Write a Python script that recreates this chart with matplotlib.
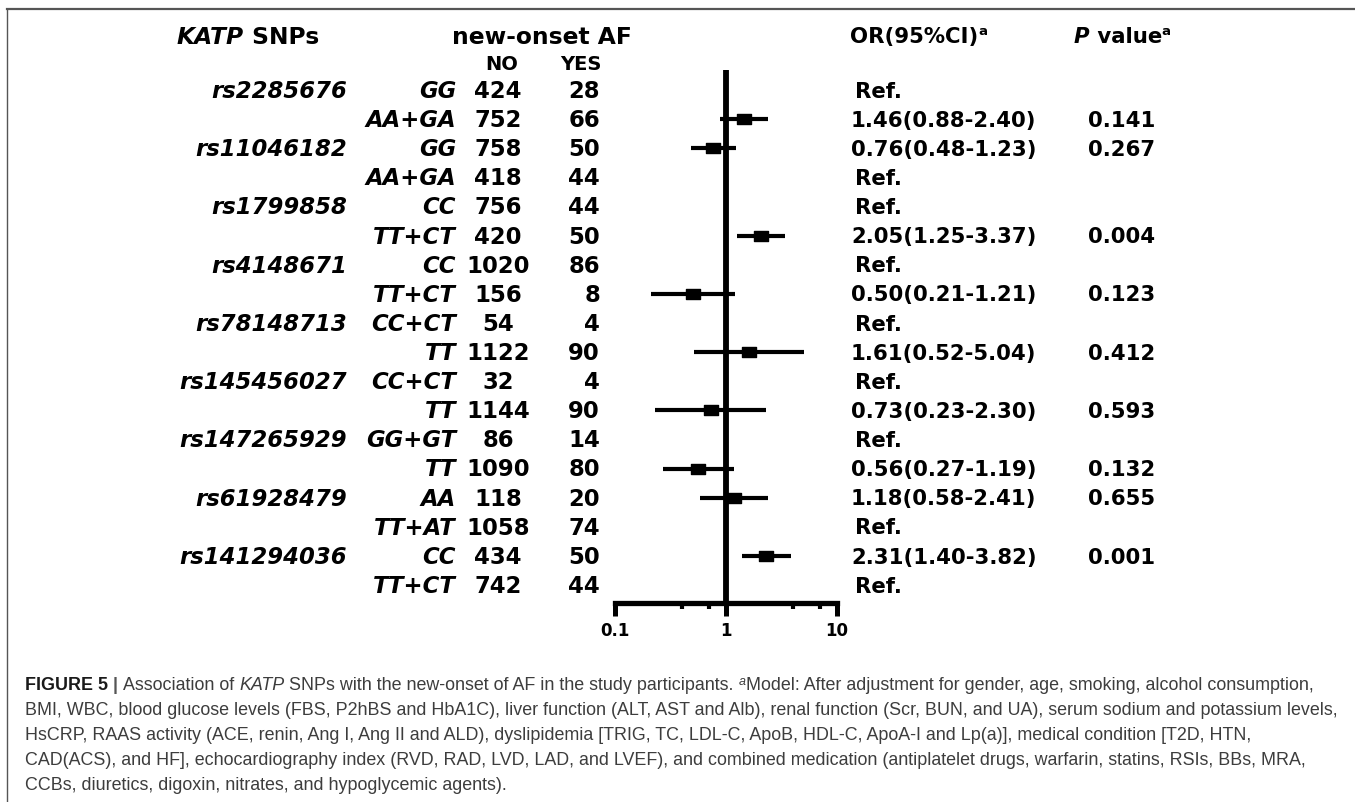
import numpy as np
import matplotlib.pyplot as plt
import matplotlib.transforms as mtransforms
from matplotlib.path import Path
from matplotlib.ticker import FixedLocator, NullFormatter

#====================================================
# data
snp_names = ["rs2285676", "", "rs11046182", "", "rs1799858", "", "rs4148671", "",
             "rs78148713", "", "rs145456027", "", "rs147265929", "", "rs61928479", "",
             "rs141294036", ""]
genotypes = ["GG", "AA+GA", "GG", "AA+GA", "CC", "TT+CT", "CC", "TT+CT", "CC+CT", "TT",
             "CC+CT", "TT", "GG+GT", "TT", "AA", "TT+AT", "CC", "TT+CT"]
af_no = [424, 752, 758, 418, 756, 420, 1020, 156, 54, 1122, 32, 1144, 86, 1090, 118, 1058, 434, 742]
af_yes = [28, 66, 50, 44, 44, 50, 86, 8, 4, 90, 4, 90, 14, 80, 20, 74, 50, 44]
nan = np.nan
odds_ratio = [nan, 1.46, 0.76, nan, nan, 2.05, nan, 0.50, nan, 1.61, nan, 0.73, nan, 0.56, 1.18, nan, 2.31, nan]
ci_low = [nan, 0.88, 0.48, nan, nan, 1.25, nan, 0.21, nan, 0.52, nan, 0.23, nan, 0.27, 0.58, nan, 1.40, nan]
ci_high = [nan, 2.40, 1.23, nan, nan, 3.37, nan, 1.21, nan, 5.04, nan, 2.30, nan, 1.19, 2.41, nan, 3.82, nan]
p_values = ["", "0.141", "0.267", "", "", "0.004", "", "0.123", "", "0.412", "", "0.593", "", "0.132",
            "0.655", "", "0.001", ""]
x_ticks = [0.1, 1, 10]
x_tick_labels = ["0.1", "1", "10"]

caption = [
    "BMI, WBC, blood glucose levels (FBS, P2hBS and HbA1C), liver function (ALT, AST and Alb), renal function (Scr, BUN, and UA), serum sodium and potassium levels,",
    "HsCRP, RAAS activity (ACE, renin, Ang I, Ang II and ALD), dyslipidemia [TRIG, TC, LDL-C, ApoB, HDL-C, ApoA-I and Lp(a)], medical condition [T2D, HTN,",
    "CAD(ACS), and HF], echocardiography index (RVD, RAD, LVD, LAD, and LVEF), and combined medication (antiplatelet drugs, warfarin, statins, RSIs, BBs, MRA,",
    "CCBs, diuretics, digoxin, nitrates, and hypoglycemic agents).",
]

#====================================================
W, H = 1355, 802
fig = plt.figure(figsize=(W / 100, H / 100), dpi=100)
renderer = fig.canvas.get_renderer()

TAB = "DejaVu Sans"
CAP = "Liberation Sans"
fs = 15.3      # right hand columns
fs_left = 16.4 # snp / genotype / counts
fs_head = 16.8


def fx(px):
    return px / W


def fy(py):
    return 1 - py / H


def run_text(x_px, y_px, runs):
    # draw pieces of text one after another on a common baseline
    x = x_px
    for txt, kw in runs:
        kw = dict(kw)
        dy = kw.pop("dy", 0)
        fig.text(fx(x), fy(y_px - dy), txt, ha="left", va="baseline", **kw)
        a = fig.text(0, 0, "x" + txt + "x", **kw)
        b = fig.text(0, 0, "xx", **kw)
        x += a.get_window_extent(renderer).width - b.get_window_extent(renderer).width
        a.remove()
        b.remove()
    return x


# frame
fig.add_artist(plt.Line2D([fx(7), 1], [fy(8.5), fy(8.5)], color="#555555", lw=1.6))
fig.add_artist(plt.Line2D([fx(7), fx(7)], [fy(8.5), 0], color="#555555", lw=1.0))

# forest axes
ax = fig.add_axes([fx(615), fy(603), fx(837) - fx(615), (603 - 70) / H])
ax.set_xscale("log")
ax.set_xlim(0.1, 10)
row_top, row_step = 90, 29.12
ax.set_ylim((603 - row_top) / row_step, (70 - row_top) / row_step)
ax.axvline(1, color="black", lw=4.2)

box = Path([(-1.35, -1), (1.35, -1), (1.35, 1), (-1.35, 1), (-1.35, -1)],
           [Path.MOVETO, Path.LINETO, Path.LINETO, Path.LINETO, Path.CLOSEPOLY])
for i in range(len(genotypes)):
    if np.isnan(odds_ratio[i]):
        continue
    ax.plot([ci_low[i], ci_high[i]], [i, i], color="black", lw=3.0, solid_capstyle="butt")
    ax.plot(odds_ratio[i], i, marker=box, ms=10.2, color="black", ls="none")

for s in ["top", "right", "left"]:
    ax.spines[s].set_visible(False)
ax.spines["bottom"].set_linewidth(3.8)
ax.set_yticks([])
ax.xaxis.set_major_locator(FixedLocator(x_ticks))
ax.set_xticklabels(x_tick_labels, fontfamily=TAB, fontweight="bold", fontsize=12)
ax.xaxis.set_minor_locator(FixedLocator([0.4, 0.7, 4, 7]))
ax.xaxis.set_minor_formatter(NullFormatter())
ax.tick_params(axis="x", which="major", length=9, width=3.6, pad=5)
ax.tick_params(axis="x", which="minor", length=4.5, width=3.0)
ax.patch.set_alpha(0)

# table columns
tr = mtransforms.blended_transform_factory(fig.transFigure, ax.transData)
bold = dict(fontfamily=TAB, fontweight="bold", fontsize=fs)
lbold = dict(fontfamily=TAB, fontweight="bold", fontsize=fs_left)
lboldit = dict(fontfamily=TAB, fontweight="bold", fontstyle="italic", fontsize=fs_left)
for i in range(len(genotypes)):
    y = i + 7.9 / row_step
    if snp_names[i]:
        ax.text(fx(347), y, snp_names[i], transform=tr, ha="right", va="baseline", **lboldit)
    ax.text(fx(456), y, genotypes[i], transform=tr, ha="right", va="baseline", **lboldit)
    ax.text(fx(498), y, str(af_no[i]), transform=tr, ha="center", va="baseline", **lbold)
    ax.text(fx(600), y, str(af_yes[i]), transform=tr, ha="right", va="baseline", **lbold)
    y = i + 7.6 / row_step
    if np.isnan(odds_ratio[i]):
        ax.text(fx(855), y, "Ref.", transform=tr, ha="left", va="baseline", **bold)
    else:
        lab = "{:.2f}({:.2f}-{:.2f})".format(odds_ratio[i], ci_low[i], ci_high[i])
        ax.text(fx(851), y, lab, transform=tr, ha="left", va="baseline", **bold)
    if p_values[i]:
        ax.text(fx(1122), y, p_values[i], transform=tr, ha="center", va="baseline", **bold)

# headers
hb = 44
hbold = dict(fontfamily=TAB, fontweight="bold", fontsize=fs_head)
hboldit = dict(fontfamily=TAB, fontweight="bold", fontstyle="italic", fontsize=fs_head)
boldit = dict(fontfamily=TAB, fontweight="bold", fontstyle="italic", fontsize=fs)
sup = dict(fontfamily=TAB, fontweight="bold", fontsize=9.5, dy=8)
run_text(177, hb, [("KATP", hboldit), (" SNPs", hbold)])
run_text(452, hb, [("new-onset AF", hbold)])
nb = dict(fontfamily=TAB, fontweight="bold", fontsize=14)
fig.text(fx(502), fy(63 + 7.2), "NO", ha="center", va="baseline", **nb)
fig.text(fx(581), fy(63 + 7.2), "YES", ha="center", va="baseline", **nb)
run_text(850, hb - 1, [("OR(95%CI)", bold), ("a", sup)])
run_text(1074, hb - 1, [("P", boldit), (" value", bold), ("a", sup)])

# caption
cfs = 12.9
cgray = "#3d3d3d"
creg = dict(fontfamily=CAP, fontsize=cfs, color=cgray)
cit = dict(fontfamily=CAP, fontsize=cfs, color=cgray, fontstyle="italic")
cbold = dict(fontfamily=CAP, fontsize=cfs, color="#1a1a1a", fontweight="bold")
cbar = dict(fontfamily=CAP, fontsize=cfs, color="#555555", fontweight="bold")
csup = dict(fontfamily=CAP, fontsize=9, color=cgray, fontstyle="italic", dy=5)
line_y = [685, 710, 735, 760, 785]
cb = 4.8
run_text(25, line_y[0] + cb, [
    ("FIGURE 5", cbold), (" | ", cbar), ("Association of ", creg), ("KATP", cit),
    (" SNPs with the new-onset of AF in the study participants. ", creg), ("a", csup),
    ("Model: After adjustment for gender, age, smoking, alcohol consumption,", creg)])
for k, line in enumerate(caption):
    fig.text(fx(25), fy(line_y[k + 1] + cb), line, ha="left", va="baseline", **creg)

plt.savefig("out.png", dpi=100)
